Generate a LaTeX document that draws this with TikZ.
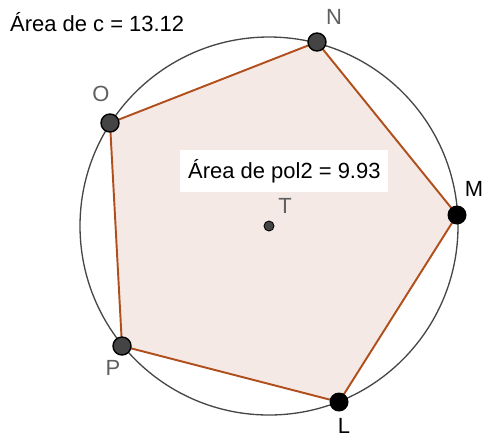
\documentclass[tikz,border=0pt]{standalone}
\usepackage{fontspec}
\setmainfont{Liberation Sans}
\usetikzlibrary{calc}
\definecolor{polEdge}{RGB}{176,78,28}
\definecolor{polFill}{RGB}{244,233,229}
\definecolor{circLine}{RGB}{70,70,70}
\definecolor{ptGray}{RGB}{68,68,68}
\definecolor{lblGray}{RGB}{95,95,95}

\begin{document}
\begin{tikzpicture}[
  x=0.02cm, y=-0.02cm,
  darkpt/.style={circle, fill=ptGray, draw=black, line width=0.8pt, inner sep=0pt, minimum size=0.36cm},
  blackpt/.style={circle, fill=black, inner sep=0pt, minimum size=0.38cm},
  centerpt/.style={circle, fill=ptGray, draw=black, line width=0.5pt, inner sep=0pt, minimum size=0.2cm},
  ptlabel/.style={font=\fontsize{12.5}{14}\selectfont, lblGray},
  ptlabelB/.style={font=\fontsize{12.5}{14}\selectfont, black},
  arealabel/.style={font=\fontsize{12.5}{14}\selectfont, black, anchor=west},
]

%% ── frame: 1 unit = 1 pixel of the 482 x 437 image ───────
\useasboundingbox (0,0) rectangle (482,437);

%% ── centre and radius of c ───────────────────────────────
\def\rc{189}
\coordinate (T) at (269,226);

%% ── vertices of pol2 ─────────────────────────────────────
\coordinate (N) at (317,42);
\coordinate (M) at (457,215);
\coordinate (L) at (339,402);
\coordinate (P) at (122,346);
\coordinate (O) at (110,123);

%% ── polygon and circle ───────────────────────────────────
\filldraw[fill=polFill, draw=polEdge, line width=1.1pt, line join=round]
  (N) -- (M) -- (L) -- (P) -- (O) -- cycle;
\draw[circLine, line width=0.75pt] (T) circle (\rc);

%% ── points ───────────────────────────────────────────────
\node[darkpt]  (Npt) at (N) {};
\node[blackpt] (Mpt) at (M) {};
\node[blackpt] (Lpt) at (L) {};
\node[darkpt]  (Ppt) at (P) {};
\node[darkpt]  (Opt) at (O) {};
\node[centerpt] (Tpt) at (T) {};

%% ── point labels ─────────────────────────────────────────
\node[ptlabel]  (Nlbl) at (334,17)  {N};
\node[ptlabelB] (Mlbl) at (474,189) {M};
\node[ptlabelB] (Llbl) at (344,426) {L};
\node[ptlabel]  (Plbl) at (113,368) {P};
\node[ptlabel]  (Olbl) at (101,94)  {O};
\node[ptlabel]  (Tlbl) at (285,206) {T};

%% ── area texts ───────────────────────────────────────────
\node[arealabel] (areaC) at (4,22) {Área de c = 13.12};
\fill[white] (180,150) rectangle (388,192);
\node[arealabel] (areaPol) at (182,171) {Área de pol2 = 9.93};

\end{tikzpicture}
\end{document}
